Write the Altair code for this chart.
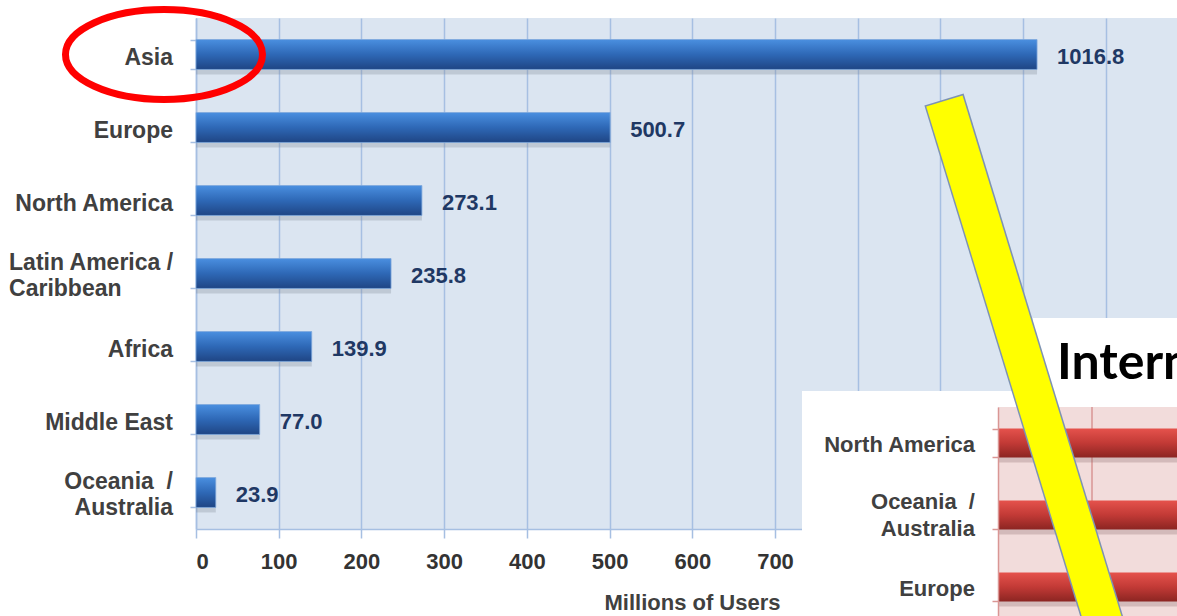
import altair as alt
import pandas as pd

# ---------------- data ----------------
regions = ["Asia", "Europe", "North America", "Latin America / Caribbean",
           "Africa", "Middle East", "Oceania / Australia"]
users = [1016.8, 500.7, 273.1, 235.8, 139.9, 77.0, 23.9]
x_ticks = [0, 100, 200, 300, 400, 500, 600, 700, 800, 900, 1000, 1100]

regions2 = ["North America", "Oceania / Australia", "Europe"]
penetration2 = [74.2, 60.1, 52.0]
grid2 = [20, 40, 60, 80]
bg2 = [0, 100]
title2 = ["Internet Penetration by World Region"]

ellipse_x = [-38.7]
ellipse_y = ["Asia"]

df = pd.DataFrame({"region": regions, "users": users})
df2 = pd.DataFrame({"region": regions2, "pen": penetration2})
dfg2 = pd.DataFrame({"g": grid2})
dfbg2 = pd.DataFrame({"a": [bg2[0]], "b": [bg2[1]]})
dft = pd.DataFrame({"t": title2})
dfe = pd.DataFrame({"ex": ellipse_x, "ey": ellipse_y})

SANS = "Liberation Sans"
NARROW = "'Liberation Sans Narrow', 'Arial Narrow', 'Liberation Sans'"
GRID_BLUE = "#a6bfe2"
PINK_LINE = "#d99694"

nb = "\u00a0"
lines_expr = (
    "datum.region == 'Latin America / Caribbean' ? ['Latin America /', '" + nb + "Caribbean'] : "
    "datum.region == 'Oceania / Australia' ? ['Oceania" + nb + " /', 'Australia'] : datum.region"
)
IS_TWO = "indexof(datum.region, '/') >= 0"
IS_LATIN = "datum.region == 'Latin America / Caribbean'"

blue_grad = alt.Gradient(
    gradient="linear",
    stops=[alt.GradientStop(color="#4a8fe0", offset=0),
           alt.GradientStop(color="#2e68b6", offset=0.5),
           alt.GradientStop(color="#1f4584", offset=1)],
    x1=0, x2=0, y1=0, y2=1,
)
red_grad = alt.Gradient(
    gradient="linear",
    stops=[alt.GradientStop(color="#e5524c", offset=0),
           alt.GradientStop(color="#c23a36", offset=0.5),
           alt.GradientStop(color="#8c2522", offset=1)],
    x1=0, x2=0, y1=0, y2=1,
)

xscale = alt.Scale(domain=[0, 1186], nice=False, zero=True)
yscale = alt.Scale(domain=regions, paddingInner=0.59, paddingOuter=0.295)

x_axis = alt.Axis(
    orient="bottom",
    values=x_ticks, title="Millions of Users", grid=True, gridColor=GRID_BLUE, gridWidth=1.5,
    domainColor=GRID_BLUE, domainWidth=1.5, tickColor=GRID_BLUE, tickSize=9, tickWidth=1.5,
    labelExpr="datum.value <= 700 ? datum.label : ''",
    labelFont=NARROW, labelFontSize=22, labelFontWeight="bold", labelColor="#333333",
    labelPadding=13, titleFont=SANS, titleFontSize=22, titleFontWeight="bold",
    titleColor="#404040", titlePadding=20, titleX=496,
)
y_axis = alt.Axis(
    orient="left", title=None, labels=False,
    tickSize=6, tickColor=GRID_BLUE, tickWidth=1.5, tickBand="extent",
    domainColor=GRID_BLUE, domainWidth=1.5, grid=False,
)

# soft shadow under the blue bars (same bands shifted a few pixels down)
yscale_sh = alt.Scale(domain=regions, range=[5, 516], paddingInner=0.59, paddingOuter=0.295)
shadow = alt.Chart(df).mark_bar(color="#7d8796", opacity=0.3).encode(
    x=alt.X("users:Q", scale=xscale, axis=None),
    y=alt.Y("region:N", scale=yscale_sh, axis=None, sort=regions),
)

bars = alt.Chart(df).mark_bar(color=blue_grad, stroke="#7fa8dc", strokeWidth=0.8).encode(
    x=alt.X("users:Q", scale=xscale, axis=x_axis),
    y=alt.Y("region:N", scale=yscale, axis=y_axis, sort=regions),
)
values = alt.Chart(df).mark_text(
    align="left", baseline="middle", dx=20, dy=2, font=NARROW, fontSize=22,
    fontWeight="bold", color="#1f3864",
).encode(
    x=alt.X("users:Q", scale=xscale),
    y=alt.Y("region:N", scale=yscale, sort=regions),
    text=alt.Text("users:Q", format=".1f"),
)

# category labels (left of the axis), placed through the x / y scales
lab_style = dict(baseline="middle", font=SANS, fontSize=23, fontWeight="bold",
                 color="#404040", lineHeight=26)
base_lab = alt.Chart(df).transform_calculate(lines=lines_expr)
lab_one = base_lab.transform_filter("!(" + IS_TWO + ")").mark_text(
    align="right", dy=3, **lab_style).encode(
    x=alt.datum(-27.8), y=alt.Y("region:N", scale=yscale, sort=regions), text="lines:N")
lab_two = base_lab.transform_filter(IS_TWO + " && !(" + IS_LATIN + ")").mark_text(
    align="right", dy=-11, **lab_style).encode(
    x=alt.datum(-27.8), y=alt.Y("region:N", scale=yscale, sort=regions), text="lines:N")
lab_latin = base_lab.transform_filter(IS_LATIN).mark_text(
    align="left", dy=-11, **lab_style).encode(
    x=alt.datum(-226), y=alt.Y("region:N", scale=yscale, sort=regions), text="lines:N")

k = 0.5523
r = 0.456
ell_path = (f"M -1 0 C -1 {-r*k:.4f} {-k} {-r} 0 {-r} C {k} {-r} 1 {-r*k:.4f} 1 0 "
            f"C 1 {r*k:.4f} {k} {r} 0 {r} C {-k} {r} -1 {r*k:.4f} -1 0 Z")
ellipse = alt.Chart(dfe).mark_point(
    shape=ell_path, size=197 * 197, filled=False, stroke="#ff0000", strokeWidth=7, opacity=1,
).encode(
    x=alt.X("ex:Q", scale=xscale),
    y=alt.Y("ey:N", scale=yscale, sort=regions),
)

main = alt.layer(bars, values, lab_one, lab_two, lab_latin, ellipse)

# white panels of the overlapping second slide chart
panel1 = alt.Chart().mark_rect(color="white").encode(
    x=alt.value(606), x2=alt.value(1000), y=alt.value(373), y2=alt.value(620))
panel2 = alt.Chart().mark_rect(color="white").encode(
    x=alt.value(837), x2=alt.value(1000), y=alt.value(300), y2=alt.value(373))

# second chart (red)
xscale2 = alt.Scale(domain=[0, 100], range=[802, 1272], nice=False)
yscale2 = alt.Scale(domain=regions2, range=[389, 605], paddingInner=0.6, paddingOuter=0.3)
yscale2_sh = alt.Scale(domain=regions2, range=[394, 610], paddingInner=0.6, paddingOuter=0.3)

y_axis2 = alt.Axis(
    orient="left", offset=-802, zindex=1, title=None, labels=False,
    tickSize=6, tickColor=PINK_LINE,
    tickWidth=1.5, tickBand="extent", domainColor=PINK_LINE, domainWidth=1.5, grid=False,
)

pink_bg = alt.Chart(dfbg2).mark_rect(color="#f2dcdb").encode(
    x=alt.X("a:Q", scale=xscale2, axis=None), x2="b:Q",
    y=alt.value(389), y2=alt.value(620))
grid_rules2 = alt.Chart(dfg2).mark_rule(color=PINK_LINE, strokeWidth=1.5).encode(
    x=alt.X("g:Q", scale=xscale2, axis=None), y=alt.value(389), y2=alt.value(620))
second_bg = alt.layer(pink_bg, grid_rules2)
shadow2 = alt.Chart(df2).mark_bar(color="#8a6d6d", opacity=0.3).encode(
    x=alt.X("pen:Q", scale=xscale2, axis=None),
    y=alt.Y("region:N", scale=yscale2_sh, axis=None, sort=regions2),
)
bars2 = alt.Chart(df2).mark_bar(color=red_grad).encode(
    x=alt.X("pen:Q", scale=xscale2, axis=None),
    y=alt.Y("region:N", scale=yscale2, axis=y_axis2, sort=regions2),
)
lab_style2 = dict(align="right", baseline="middle", font=SANS, fontSize=22,
                  fontWeight="bold", color="#404040", lineHeight=27)
base_lab2 = alt.Chart(df2).transform_calculate(lines=lines_expr)
lab2_one = base_lab2.transform_filter("!(" + IS_TWO + ")").mark_text(dy=2, **lab_style2).encode(
    x=alt.datum(-4.9), y=alt.Y("region:N", scale=yscale2, sort=regions2), text="lines:N")
lab2_two = base_lab2.transform_filter(IS_TWO).mark_text(dy=-13, **lab_style2).encode(
    x=alt.datum(-4.9), y=alt.Y("region:N", scale=yscale2, sort=regions2), text="lines:N")
second = alt.layer(bars2, lab2_one, lab2_two)

title_txt = alt.Chart(dft).mark_text(
    align="left", baseline="alphabetic", font="Lato", fontSize=50, fontWeight="bold",
    color="black", clip=True,
).encode(text="t:N", x=alt.value(861), y=alt.value(361))

# yellow arrow shaft
arrow_outline = alt.Chart().mark_rule(color="#7e93b3", strokeWidth=41, strokeCap="butt").encode(
    x=alt.value(748), y=alt.value(81.5), x2=alt.value(919), y2=alt.value(642))
arrow_fill = alt.Chart().mark_rule(color="#ffff00", strokeWidth=38, strokeCap="butt").encode(
    x=alt.value(748.4), y=alt.value(83), x2=alt.value(919), y2=alt.value(642))

chart = alt.layer(
    shadow, main, panel1, panel2, second_bg, shadow2, second, title_txt,
    arrow_outline, arrow_fill
).resolve_scale(x="independent", y="independent").properties(
    width=981, height=511, autosize="none",
    padding={"left": 196, "top": 18, "right": 0, "bottom": 87},
    background="white",
).configure_view(fill="#dbe5f1", stroke=None)

chart.save("out.html", embed_options={"renderer": "svg", "actions": False})
